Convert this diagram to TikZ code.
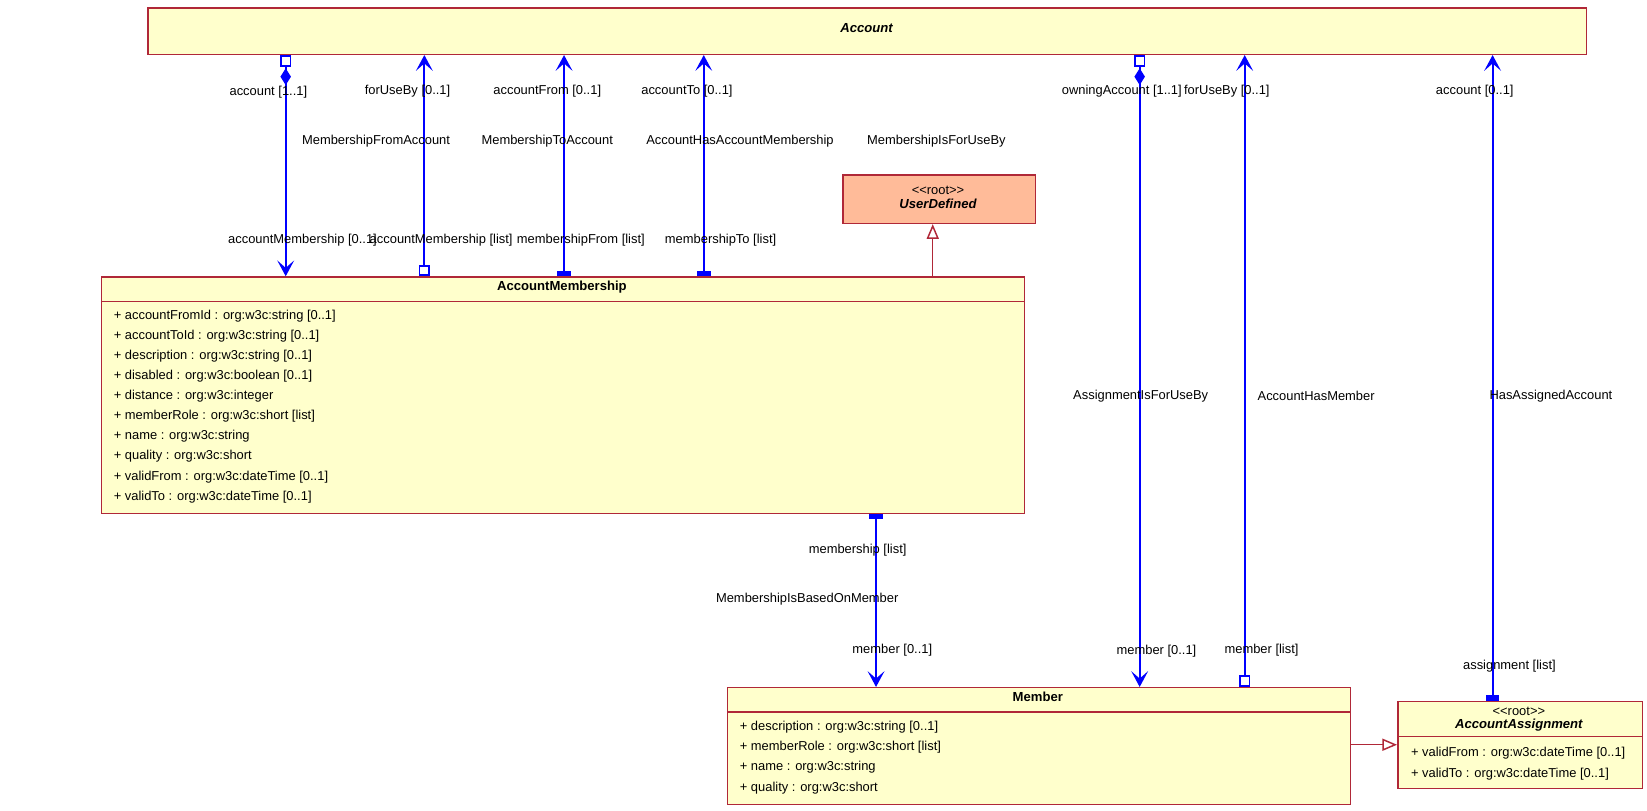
\documentclass[tikz,border=0pt]{standalone}
\usepackage{fontspec}
\setmainfont{Liberation Sans}
\usetikzlibrary{arrows.meta}
\definecolor{umlred}{RGB}{176,40,56}
\definecolor{umlfill}{RGB}{255,255,204}
\definecolor{umlroot}{RGB}{255,187,153}
\definecolor{umlblue}{RGB}{0,0,255}
\newcommand\umlroot{<\kern0pt<root>\kern0pt>}
\tikzset{
  umlclass/.style={draw=umlred, fill=umlfill, line width=0.8pt, inner sep=0pt, anchor=north west},
  umlsep/.style={draw=umlred, line width=0.8pt},
  umltitle/.style={font=\fontsize{7.1}{8.5}\selectfont\bfseries, inner sep=0pt},
  umlabstract/.style={font=\fontsize{7.1}{8.5}\selectfont\bfseries\itshape, inner sep=0pt},
  umlstereo/.style={font=\fontsize{7}{8.5}\selectfont, inner sep=0pt},
  umlattr/.style={font=\fontsize{7}{8.5}\selectfont, anchor=west, inner sep=0pt},
  umllabel/.style={font=\fontsize{7}{8.5}\selectfont, inner sep=0pt, yshift=-1pt},
  assoc/.style={draw=umlblue, line width=1pt},
  genline/.style={draw=umlred, line width=0.8pt},
  navi/.tip={Stealth[length=3mm,width=3.2mm,inset=1.4mm]},
  agg/.tip={Square[open,length=2.2mm,width=2.2mm]},
  multi/.tip={Rectangle[length=1mm,width=2.6mm]},
  gen/.tip={Triangle[open,fill=white,length=2.8mm,width=2.3mm]}
}
\begin{document}
\begin{tikzpicture}[x=0.02cm, y=-0.02cm]
\useasboundingbox (0,0) rectangle (1568,772);

% Columns of the associations
\foreach \n/\x in {cA/272, cB/404, cC/537, cD/670, cE/834, cF/888, cG/1085, cH/1185, cI/1421}
  \coordinate (\n) at (\x,0);
\coordinate (rG) at (0,709);

% Drawing class Account
\node[umlclass, minimum width=27.4cm, minimum height=0.88cm] (acc) at (140,7) {};
\node[umlabstract] (accT) at (825,27) {Account};

% Drawing class UserDefined
\node[umlclass, fill=umlroot, minimum width=3.66cm, minimum height=0.92cm] (ud) at (802,166) {};
\node[umlstereo] (udS) at (893,181) {\umlroot};
\node[umlabstract] (udT) at (893,194) {UserDefined};

% Drawing class AccountMembership
\node[umlclass, minimum width=17.58cm, minimum height=4.5cm] (am) at (96,263) {};
\node[umltitle] (amT) at (535,273) {AccountMembership};
\draw[umlsep] ([yshift=-0.48cm]am.north west) -- ([yshift=-0.48cm]am.north east);
\foreach \a [count=\i] in {+ accountFromId : org:w3c:string [0..1],
  + accountToId : org:w3c:string [0..1], + description : org:w3c:string [0..1],
  + disabled : org:w3c:boolean [0..1], + distance : org:w3c:integer,
  + memberRole : org:w3c:short [list], + name : org:w3c:string,
  + quality : org:w3c:short, + validFrom : org:w3c:dateTime [0..1],
  + validTo : org:w3c:dateTime [0..1]}
  \node[umlattr] (amA\i) at (108,{301+19.1*(\i-1)}) {\a};

% Drawing class Member
\node[umlclass, minimum width=11.86cm, minimum height=2.22cm] (mem) at (692,654) {};
\node[umltitle] (memT) at (988,663) {Member};
\draw[umlsep] ([yshift=-0.48cm]mem.north west) -- ([yshift=-0.48cm]mem.north east);
\foreach \a [count=\i] in {+ description : org:w3c:string [0..1],
  + memberRole : org:w3c:short [list], + name : org:w3c:string,
  + quality : org:w3c:short}
  \node[umlattr] (memA\i) at (704,{692+19.3*(\i-1)}) {\a};

% Drawing class AccountAssignment
\node[umlclass, minimum width=4.66cm, minimum height=1.66cm] (aa) at (1330,667) {};
\node[umlstereo] (aaS) at (1446,677) {\umlroot};
\node[umlabstract] (aaT) at (1446,690) {AccountAssignment};
\draw[umlsep] ([yshift=-0.68cm]aa.north west) -- ([yshift=-0.68cm]aa.north east);
\foreach \a [count=\i] in {+ validFrom : org:w3c:dateTime [0..1],
  + validTo : org:w3c:dateTime [0..1]}
  \node[umlattr] (aaA\i) at (1343,{717+20*(\i-1)}) {\a};

% Drawing generalizations
\draw[genline, -gen] (am.north -| cF) -- (ud.south -| cF);
\draw[genline, -gen] (mem.east |- rG) -- (aa.west |- rG);

% Drawing associations
\draw[assoc, agg-navi] (acc.south -| cA) -- (am.north -| cA);
\draw[assoc, navi-agg] (acc.south -| cB) -- (am.north -| cB);
\draw[assoc, navi-multi] (acc.south -| cC) -- (am.north -| cC);
\draw[assoc, navi-multi] (acc.south -| cD) -- (am.north -| cD);
\draw[assoc, multi-navi] (am.south -| cE) -- (mem.north -| cE);
\draw[assoc, agg-navi] (acc.south -| cG) -- (mem.north -| cG);
\draw[assoc, navi-agg] (acc.south -| cH) -- (mem.north -| cH);
\draw[assoc, navi-multi] (acc.south -| cI) -- (aa.north -| cI);

% Marking composition diamonds
\fill[umlblue] (272,65) -- (277,73) -- (272,81) -- (267,73) -- cycle;
\fill[umlblue] (1085,65) -- (1090,73) -- (1085,81) -- (1080,73) -- cycle;

% Role names at Account
\node[umllabel] (rA1) at (255.5,86) {account [1..1]};
\node[umllabel] (rB1) at (388,85) {forUseBy [0..1]};
\node[umllabel] (rC1) at (521,85) {accountFrom [0..1]};
\node[umllabel] (rD1) at (654,85) {accountTo [0..1]};
\node[umllabel] (rG1) at (1068,85) {owningAccount [1..1]};
\node[umllabel] (rH1) at (1168,85) {forUseBy [0..1]};
\node[umllabel] (rI1) at (1404,85) {account [0..1]};

% Association names
\node[umllabel] (nB) at (358,133) {MembershipFromAccount};
\node[umllabel] (nC) at (521,133) {MembershipToAccount};
\node[umllabel] (nD) at (704.5,133) {AccountHasAccountMembership};
\node[umllabel] (nX) at (891.5,133) {MembershipIsForUseBy};
\node[umllabel] (nE) at (768.5,569) {MembershipIsBasedOnMember};
\node[umllabel] (nG) at (1086,375) {AssignmentIsForUseBy};
\node[umllabel] (nH) at (1253,375) {AccountHasMember};
\node[umllabel] (nI) at (1476.5,375) {HasAssignedAccount};

% Role names at the other ends
\node[umllabel] (rA2) at (288,227) {accountMembership [0..1]};
\node[umllabel] (rB2) at (420,227) {accountMembership [list]};
\node[umllabel] (rC2) at (553,227) {membershipFrom [list]};
\node[umllabel] (rD2) at (686,227) {membershipTo [list]};
\node[umllabel] (rE1) at (816.5,522) {membership [list]};
\node[umllabel] (rE2) at (849.5,617) {member [0..1]};
\node[umllabel] (rG2) at (1101,618) {member [0..1]};
\node[umllabel] (rH2) at (1201,617) {member [list]};
\node[umllabel] (rI2) at (1437,632) {assignment [list]};
\end{tikzpicture}
\end{document}
